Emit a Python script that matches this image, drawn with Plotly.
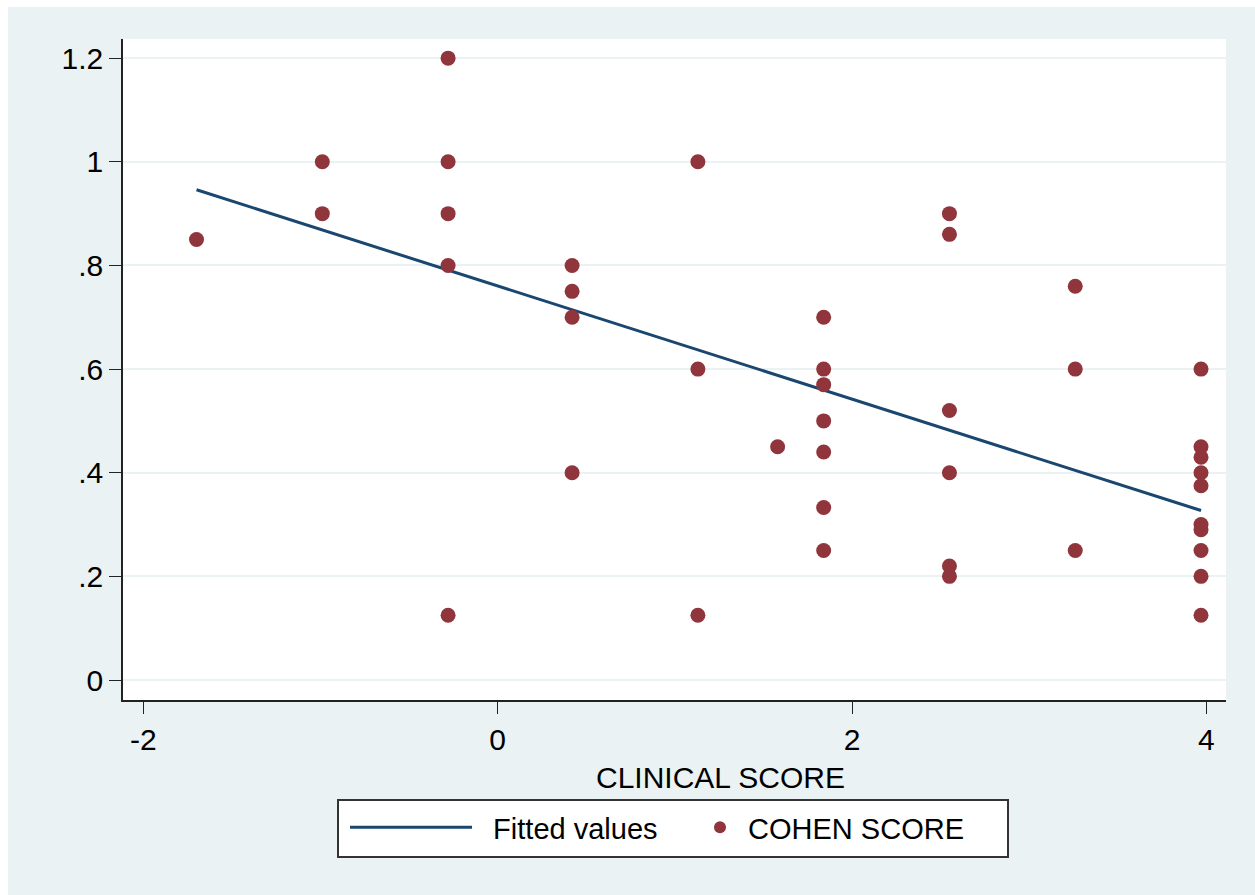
import plotly.graph_objects as go

# ---- data ----
clinical = [-1.70, -0.99, -0.99,
            -0.28, -0.28, -0.28, -0.28, -0.28,
            0.42, 0.42, 0.42, 0.42,
            1.13, 1.13, 1.13,
            1.58,
            1.84, 1.84, 1.84, 1.84, 1.84, 1.84, 1.84,
            2.55, 2.55, 2.55, 2.55, 2.55, 2.55,
            3.26, 3.26, 3.26,
            3.97, 3.97, 3.97, 3.97, 3.97, 3.97, 3.97, 3.97, 3.97, 3.97]
cohen = [0.85, 1.0, 0.9,
         1.2, 1.0, 0.9, 0.8, 0.125,
         0.8, 0.75, 0.70, 0.40,
         1.0, 0.6, 0.125,
         0.45,
         0.70, 0.60, 0.57, 0.50, 0.44, 0.333, 0.25,
         0.90, 0.86, 0.52, 0.40, 0.22, 0.20,
         0.76, 0.60, 0.25,
         0.60, 0.45, 0.43, 0.40, 0.375, 0.30, 0.29, 0.25, 0.20, 0.125]
fit_x = [-1.70, 3.97]
fit_y = [0.946, 0.327]

y_ticks = [0, 0.2, 0.4, 0.6, 0.8, 1.0, 1.2]
y_labels = ["0", ".2", ".4", ".6", ".8", "1", "1.2"]
x_ticks = [-2, 0, 2, 4]
x_labels = ["-2", "0", "2", "4"]
x_title = "CLINICAL SCORE"

BG = "#EAF2F3"
FONT = "Liberation Sans, Arial, sans-serif"
NB = "\u00a0"

fig = go.Figure()
fig.add_trace(go.Scatter(x=fit_x, y=fit_y, mode="lines", name=NB * 2 + "Fitted values",
                         line=dict(color="#1A476F", width=3), legend="legend"))
fig.add_trace(go.Scatter(x=clinical, y=cohen, mode="markers", name=NB + "COHEN SCORE",
                         marker=dict(color="#90353B", size=15, line=dict(width=0)),
                         legend="legend2"))

W, H = 1255, 895
L, R, T, B = 123, 29, 39, 195
pw, ph = W - L - R, H - T - B

def px2paper_x(px):
    return (px - L) / pw

def px2paper_y(py):
    return (H - B - py) / ph

fig.update_layout(
    width=W, height=H,
    margin=dict(l=L, r=R, t=T, b=B, autoexpand=False),
    paper_bgcolor=BG, plot_bgcolor="white",
    font=dict(family=FONT, size=29, color="black"),
    showlegend=True,
    legend=dict(orientation="h", x=px2paper_x(345), xanchor="left",
                y=px2paper_y(802), yanchor="top",
                bgcolor="rgba(0,0,0,0)", borderwidth=0,
                font=dict(size=29), itemwidth=122),
    legend2=dict(orientation="h", x=px2paper_x(700), xanchor="left",
                 y=px2paper_y(802), yanchor="top",
                 bgcolor="rgba(0,0,0,0)", borderwidth=0,
                 font=dict(size=29), itemwidth=30, itemsizing="constant"),
    xaxis=dict(range=[-2.115, 4.111], tickvals=x_ticks, ticktext=x_labels,
               showgrid=False, zeroline=False, showline=True, linecolor="#222222",
               linewidth=1.5, ticks="outside", ticklen=12, tickwidth=1.2,
               tickcolor="#222222", tickfont=dict(size=30),
               automargin=False),
    yaxis=dict(range=[-0.0386, 1.237], tickvals=y_ticks, ticktext=y_labels,
               showgrid=True, gridcolor=BG, gridwidth=2, zeroline=False,
               showline=True, linecolor="#222222", linewidth=1.5,
               ticks="outside", ticklen=12, tickwidth=1.2, tickcolor="#222222",
               tickfont=dict(size=30), automargin=False),
    annotations=[
        dict(text=x_title, xref="paper", yref="paper",
             x=px2paper_x(720), y=px2paper_y(777), xanchor="center", yanchor="middle",
             showarrow=False, font=dict(size=30)),
    ],
    shapes=[
        dict(type="rect", xref="paper", yref="paper",
             x0=px2paper_x(-5), x1=px2paper_x(W + 5),
             y0=px2paper_y(7), y1=px2paper_y(-5),
             fillcolor="white", line=dict(width=0), layer="below"),
        dict(type="rect", xref="paper", yref="paper",
             x0=px2paper_x(-5), x1=px2paper_x(8),
             y0=px2paper_y(H + 5), y1=px2paper_y(-5),
             fillcolor="white", line=dict(width=0), layer="below"),
        # legend frame
        dict(type="rect", xref="paper", yref="paper",
             x0=px2paper_x(338), x1=px2paper_x(1008),
             y0=px2paper_y(857), y1=px2paper_y(800),
             fillcolor="white", line=dict(color="#333333", width=2), layer="below"),
    ],
)

fig.write_html("out.html")
